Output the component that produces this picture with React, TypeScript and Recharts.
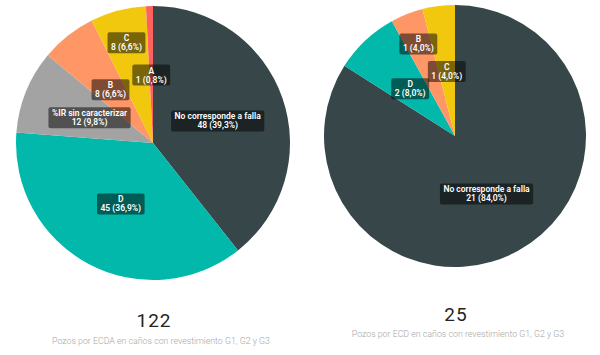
import { PieChart, Pie, Cell } from "recharts"

const leftNames = ["No corresponde a falla", "D", "%IR sin caracterizar", "B", "C", "A"]
const leftValues = [48, 45, 12, 8, 8, 1]
const leftTotal = "122"
const leftCaption = "Pozos por ECDA en caños con revestimiento G1, G2 y G3"

const rightNames = ["No corresponde a falla", "D", "B", "C"]
const rightValues = [21, 2, 1, 1]
const rightTotal = "25"
const rightCaption = "Pozos por ECD en caños con revestimiento G1, G2 y G3"

const colors: Record<string, string> = {
    "No corresponde a falla": "#374649",
    "D": "#01B8AA",
    "%IR sin caracterizar": "#A3A3A3",
    "B": "#FE9666",
    "C": "#F2C80F",
    "A": "#FD625E",
}

const leftData = leftNames.map((name, i) => ({ name, value: leftValues[i] }))
const rightData = rightNames.map((name, i) => ({ name, value: rightValues[i] }))

const LABEL_FONT = "600 8.5px Roboto"
let ctx: CanvasRenderingContext2D | null = null
function measure(text: string) {
    if (!ctx) ctx = document.createElement("canvas").getContext("2d")
    if (!ctx) return text.length * 4
    ctx.font = LABEL_FONT
    return ctx.measureText(text).width
}

const RAD = Math.PI / 180

// labels that Power BI pushes outwards to avoid overlap
function makeLabel(total: number, pushed: string[]) {
    return (props: any) => {
        const { cx, cy, midAngle, outerRadius, value } = props
        const name = props.payload?.name ?? props.name
        const r = outerRadius * (pushed.includes(name) ? 0.76 : 0.5)
        const x = cx + r * Math.cos(-midAngle * RAD)
        const y = cy + r * Math.sin(-midAngle * RAD)
        const pct = ((value / total) * 100).toFixed(1).replace(".", ",")
        const line2 = `${value} (${pct}%)`
        const w = Math.max(measure(name), measure(line2)) + 7
        return (
            <g key={`lbl-${name}`}>
                <rect x={x - w / 2} y={y - 10} width={w} height={21} rx={2} fill="rgba(0,0,0,0.5)" />
                <text x={x} y={y} textAnchor="middle" fill="#ffffff" fontSize={8.5} fontWeight={600} fontFamily="Roboto">
                    <tspan x={x} dy={-1}>{name}</tspan>
                    <tspan x={x} dy={9}>{line2}</tspan>
                </text>
            </g>
        )
    }
}

const sum = (a: number[]) => a.reduce((s, v) => s + v, 0)

export default function App() {
    return (
        <div style={{ position: "relative", width: 600, height: 355, background: "#fff" }}>
            <style>{`body{margin:0}`}</style>
            <PieChart
                width={600}
                height={355}
                margin={{ top: 0, right: 0, bottom: 0, left: 0 }}
                style={{ position: "absolute", left: 0, top: 0 }}
            >
                <Pie
                    data={leftData}
                    dataKey="value"
                    nameKey="name"
                    cx={153}
                    cy={143}
                    outerRadius={137}
                    startAngle={90}
                    endAngle={-270}
                    stroke="none"
                    labelLine={false}
                    label={makeLabel(sum(leftValues), ["C"])}
                    isAnimationActive={false}
                >
                    {leftData.map((d) => (
                        <Cell key={`l-${d.name}`} fill={colors[d.name]} />
                    ))}
                </Pie>
                <Pie
                    data={rightData}
                    dataKey="value"
                    nameKey="name"
                    cx={455}
                    cy={136}
                    outerRadius={131}
                    startAngle={90}
                    endAngle={-270}
                    stroke="none"
                    labelLine={false}
                    label={makeLabel(sum(rightValues), ["B"])}
                    isAnimationActive={false}
                >
                    {rightData.map((d) => (
                        <Cell key={`r-${d.name}`} fill={colors[d.name]} />
                    ))}
                </Pie>
            </PieChart>
            <svg width={600} height={355} style={{ position: "absolute", left: 0, top: 0, pointerEvents: "none" }}>
                <text x={154} y={327} textAnchor="middle" fontSize={19} fontFamily="Roboto" fill="#252423" letterSpacing={1}>{leftTotal}</text>
                <text x={161} y={344} textAnchor="middle" fontSize={8.8} fontWeight={300} fontFamily="Roboto" fill="#a6a6a6">{leftCaption}</text>
                <text x={456} y={321} textAnchor="middle" fontSize={19} fontFamily="Roboto" fill="#252423" letterSpacing={1}>{rightTotal}</text>
                <text x={458} y={337} textAnchor="middle" fontSize={8.8} fontWeight={300} fontFamily="Roboto" fill="#a6a6a6">{rightCaption}</text>
            </svg>
        </div>
    )
}
